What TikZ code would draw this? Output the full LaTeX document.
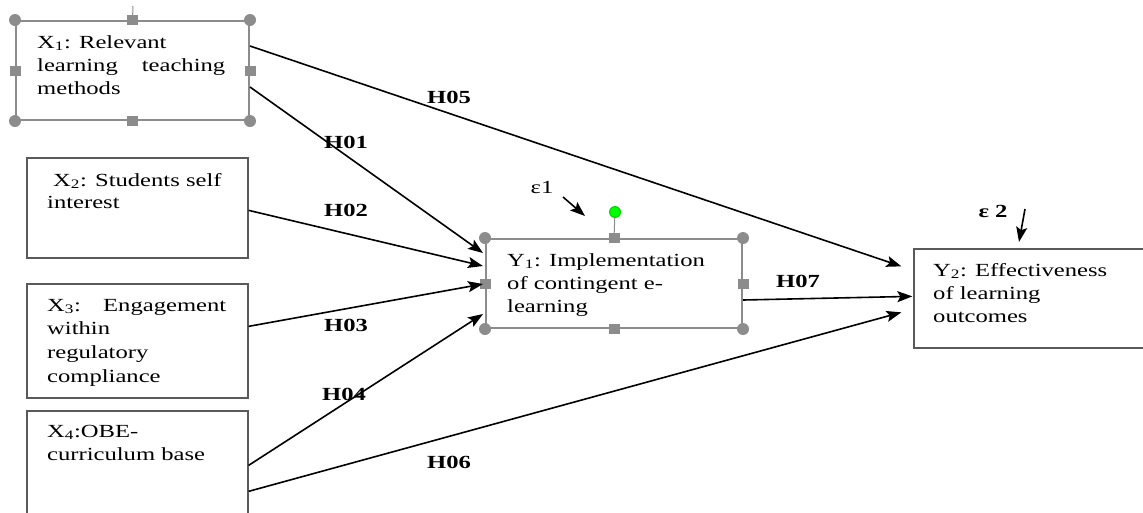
\documentclass[tikz,border=0pt]{standalone}
\usepackage{fontspec}
\setmainfont{Liberation Serif}[FakeStretch=1.33]
\usetikzlibrary{arrows.meta,calc}
\definecolor{hgray}{HTML}{8C8C8C}
\definecolor{bgray}{HTML}{5A5A5A}
\begin{document}
\begin{tikzpicture}[x=1pt,y=-1pt,
  plainbox/.style={draw=bgray, line width=1.3pt, inner sep=0, fill=white},
  selbox/.style={draw=hgray, line width=2pt, inner sep=0, fill=white},
  txt/.style={anchor=base west, inner sep=0, font=\fontsize{18.5}{22}\selectfont},
  lab/.style={inner sep=0, font=\fontsize{18.5}{22}\selectfont\bfseries},
  arr/.style={draw=black, line width=1.6pt, -{Stealth[length=15pt,width=11pt,inset=3pt]}},
  hcirc/.style={fill=hgray},
  hsq/.style={fill=hgray}]
\useasboundingbox (0,0) rectangle (1143,512);

% boxes
\node[selbox, minimum width=233pt, minimum height=99pt] (x1) at (132.5,70.5) {};
\node[plainbox, minimum width=221pt, minimum height=100pt] (x2) at (137.5,208) {};
\node[plainbox, minimum width=221pt, minimum height=114pt] (x3) at (137.5,341) {};
\node[plainbox, minimum width=221pt, minimum height=119pt] (x4) at (137.5,470.5) {};
\node[selbox, minimum width=256pt, minimum height=89pt] (y1) at (614,283.5) {};
\node[plainbox, minimum width=236pt, minimum height=99pt] (y2) at (1032,298.5) {};

% selection handles
\coordinate (x1tick) at (133,6);
\draw[hgray, line width=1pt] (x1tick) -- (x1.north);
\foreach \b in {x1,y1}{
  \foreach \a in {north west,north east,south west,south east}
    \fill[hcirc] (\b.\a) circle (6pt);
  \foreach \a in {north,south,east,west}
    \fill[hsq] ($(\b.\a)+(-5.5,-5)$) rectangle ++(11,10);
}
\coordinate (gdot) at (615,212);
\draw[hgray, line width=1pt] (gdot) -- (y1.north);
\fill[green!85!black] (gdot) circle (6pt);
\fill[green] (gdot) circle (4.8pt);

% texts
\node[txt] (t1a) at (37,48) {X\textsubscript{1}: Relevant};
\node[txt] (t1b) at (37,71) {\makebox[188pt][s]{learning teaching}};
\node[txt] (t1c) at (37,94) {methods};

\node[txt] (t2a) at (53,186) {X\textsubscript{2}: Students self};
\node[txt] (t2b) at (47,208) {interest};

\node[txt] (t3a) at (47,311) {\makebox[179pt][s]{X\textsubscript{3}: Engagement}};
\node[txt] (t3b) at (47,334) {within};
\node[txt] (t3c) at (47,358) {regulatory};
\node[txt] (t3d) at (47,382) {compliance};

\node[txt] (t4a) at (47,437) {X\textsubscript{4}:OBE-};
\node[txt] (t4b) at (47,460) {curriculum base};

\node[txt] (t5a) at (507,266) {Y\textsubscript{1}: Implementation};
\node[txt] (t5b) at (507,289) {of contingent e-};
\node[txt] (t5c) at (507,312) {learning};

\node[txt] (t6a) at (933,276) {Y\textsubscript{2}: Effectiveness};
\node[txt] (t6b) at (933,299) {of learning};
\node[txt] (t6c) at (933,322) {outcomes};

% error terms
\node[inner sep=0, font=\fontsize{18.5}{22}\selectfont] (e1) at (542,187) {ε1};
\coordinate (e1s) at (563,197);
\coordinate (e1e) at (585,216);
\draw[arr] (e1s) -- (e1e);
\node[lab] (e2) at (993,211) {ε 2};
\coordinate (e2s) at (1025,209);
\coordinate (e2e) at (1019,242);
\draw[arr] (e2s) -- (e2e);

% connectors
\draw[arr] ([yshift=-26pt]x1.north east) -- ([xshift=-12pt,yshift=-18pt]y2.north west);
\draw[arr] ([yshift=-67pt]x1.north east) -- ([xshift=-2pt,yshift=-15pt]y1.north west);
\draw[arr] ([yshift=-53pt]x2.north east) -- ([xshift=-2pt,yshift=-28pt]y1.north west);
\draw[arr] ([yshift=-43pt]x3.north east) -- ([xshift=-2pt,yshift=-46pt]y1.north west);
\draw[arr] ([yshift=-55pt]x4.north east) -- ([xshift=-2pt,yshift=-76pt]y1.north west);
\draw[arr] ([yshift=-81pt]x4.north east) -- ([xshift=-12pt,yshift=-64pt]y2.north west);
\draw[arr] ([yshift=-62pt]y1.north east) -- ([xshift=-1pt,yshift=-48pt]y2.north west);

% labels
\node[lab] (h05) at (449,97) {H05};
\node[lab] (h01) at (346,142) {H01};
\node[lab] (h02) at (346,210) {H02};
\node[lab] (h03) at (346,325) {H03};
\node[lab] (h04) at (344,394) {H04};
\node[lab] (h06) at (449,462) {H06};
\node[lab] (h07) at (798,281) {H07};
\end{tikzpicture}
\end{document}
